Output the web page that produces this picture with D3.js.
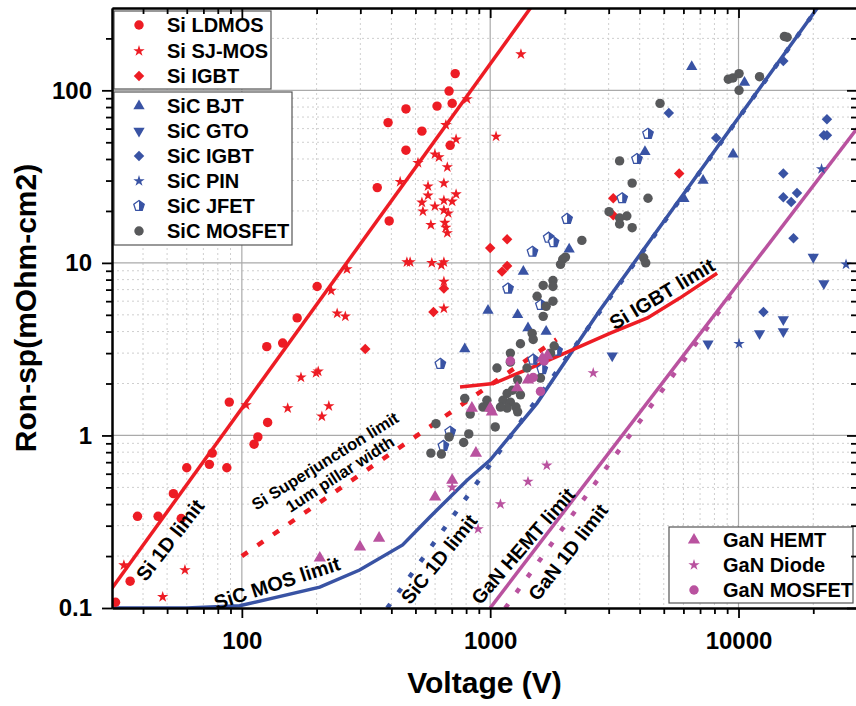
<!DOCTYPE html>
<html>
<head>
<meta charset="utf-8">
<script src="https://cdn.jsdelivr.net/npm/d3@7/dist/d3.min.js"></script>
<style>
  body { margin: 0; background: #fff; }
  svg { display: block; font-family: Arial, "Liberation Sans", sans-serif; }
</style>
</head>
<body>
<svg id="chart" width="856" height="706"></svg>
<script>
// [voltage (V), Ron-sp (mOhm-cm2)]
const siLdmos = [[31,0.108],[35.5,0.143],[38,0.34],[46,0.34],[53,0.46],[57,0.33],[60,0.65],[74,0.68],[76,0.79],[87,0.65],[89,1.56],[112,0.89],[116,0.98],[127,1.19],[126,3.27],[146,3.43],[167,4.8],[201,7.3],[351,27.3],[392,17.5],[388,65],[458,78],[531,58],[458,45],[611,81],[683,99],[703,84],[723,125],[690,48]];
const siSjMos = [[33.5,0.177],[48,0.116],[59,0.166],[104,1.5],[153,1.44],[173,2.17],[199,2.3],[203,2.35],[224,1.48],[210,1.29],[265,9.2],[229,6.9],[242,5.1],[261,4.9],[434,29.5],[512,38],[807,89],[1056,54],[663,63],[729,52],[599,42.6],[622,41],[672,35.9],[562,27.8],[651,29],[562,24.6],[729,25],[531,22.4],[599,21.3],[651,23],[703,22.7],[536,19.9],[651,20.2],[678,19.4],[577,16.6],[657,17.1],[663,16],[672,14.9],[462,10.1],[476,10.1],[582,10],[636,9.7],[651,10.1],[651,7.8],[651,5.45],[1330,162]];
const siIgbt = [[314,3.17],[591,5.2],[651,7.1],[1000,12.2],[1170,13.7],[1170,9.6],[1116,8.9],[5770,33],[3130,23.7],[3130,18.9]];
const sicBjt = [[6480,137],[10570,111],[4200,44],[9510,42.6],[7200,30],[6030,23.5],[2080,12],[1360,8.9],[980,5.3],[1290,5.0],[1420,4.2],[1680,4.0],[790,3.17]];
const sicGto = [[3100,2.9],[7540,3.4],[12150,3.9],[15150,4.7],[15150,4.0],[22060,7.6],[20000,10.8]];
const sicIgbt = [[5240,74],[8130,53],[15150,148],[22700,68],[22060,55],[22700,55],[15150,33],[15150,24],[16300,22.5],[17200,25.4],[16650,13.9],[12600,5.2]];
const sicPin = [[21600,35],[27100,9.8],[10050,3.4]];
const sicJfet = [[4320,56],[3900,40],[3400,23.7],[2040,18],[1720,14],[1800,13.2],[1480,11.6],[1180,7.1],[630,2.6],[1600,5.7],[690,1.05],[648,0.87],[1490,2.75],[1620,2.42],[1860,3.1]];
const sicMosfet = [[15300,205],[15700,203],[9100,116],[9500,118],[10050,125],[12150,120],[10050,100],[4830,84],[3320,39],[3730,29],[4320,23.7],[3010,19.8],[3320,18.2],[3550,18.7],[3320,16.8],[3730,16],[2340,13.5],[4150,10.7],[4230,10],[1960,10.5],[1920,9.8],[2010,10.8],[1790,7.9],[1790,7.3],[1635,7.4],[1545,6.4],[1790,6.0],[1680,5.6],[1635,4.9],[1476,3.9],[1324,3.4],[1490,3.6],[1206,3.0],[1750,3.0],[1810,3.3],[1206,2.66],[1065,2.46],[1407,2.46],[1594,2.15],[1290,2.1],[1170,1.75],[1230,1.83],[1324,1.72],[1126,1.6],[1206,1.56],[1270,1.46],[1290,1.37],[1170,1.44],[1100,1.46],[970,1.6],[980,1.46],[1048,1.12],[935,1.46],[831,1.33],[790,1.64],[605,1.17],[683,0.98],[820,1.02],[782,0.91],[577,0.79],[636,0.78]];
const ganHemt = [[206,0.195],[299,0.226],[357,0.254],[600,0.44],[703,0.55],[876,0.79],[844,1.44],[1000,1.44],[1016,1.37],[1284,1.89],[1420,2.1],[1620,2.8],[1700,2.9]];
const ganDiode = [[2600,2.3],[1690,0.67],[1420,0.54],[1100,0.40],[894,0.287],[703,0.5]];
const ganMosfet = [[1206,2.7],[1594,1.8],[1490,2.17],[1650,2.7]];

// limit curves
const siLimit = [[30,0.13],[1453,300]];
const siSjLimit = [[100,0.2],[1850,3.6]];
const sicMosLimit = [[30,0.1],[60,0.1],[98,0.103],[206,0.132],[298,0.166],[444,0.232],[572,0.337],[807,0.55],[1000,0.72],[1545,1.54],[2770,5.33],[20770,300]];
const sic1dLimit = [[385,0.1],[20800,300]];
const siIgbtLimit = [[756,1.91],[1030,2.0],[1420,2.42],[2000,3.0],[3030,3.9],[4300,4.8],[5800,6.25],[8200,8.7]];
const ganHemtLimit = [[1000,0.1],[30000,60]];
const gan1dLimit = [[1150,0.1],[10000,7.5]];

const xMajor = [100, 1000, 10000];
const xMinor = [40,50,60,70,80,90,200,300,400,500,600,700,800,900,2000,3000,4000,5000,6000,7000,8000,9000,20000];
const yMajor = [0.1, 1, 10, 100];
const yMinor = [0.2,0.3,0.4,0.5,0.6,0.7,0.8,0.9,2,3,4,5,6,7,8,9,20,30,40,50,60,70,80,90,200];

const RED = '#ed1c24', BLUE = '#3953a4', GRAY = '#58595b', MAG = '#b9529f';

const svg = d3.select('#chart');
const pLeft = 112, pRight = 857, pTop = 8, pBottom = 608;

const x = d3.scaleLog().domain([30, 30000]).range([pLeft, pRight]);
const y = d3.scaleLog().domain([0.1, 300]).range([pBottom, pTop]);

svg.append('clipPath').attr('id', 'plot')
    .append('rect').attr('x', pLeft).attr('y', pTop).attr('width', pRight - pLeft).attr('height', pBottom - pTop);

// grid
const grid = svg.append('g');
grid.selectAll('.gxm').data(xMinor).enter().append('line')
    .attr('x1', d => x(d)).attr('x2', d => x(d)).attr('y1', pTop).attr('y2', pBottom)
    .attr('stroke', '#cfcfcf').attr('stroke-dasharray', '2,3');
grid.selectAll('.gym').data(yMinor).enter().append('line')
    .attr('y1', d => y(d)).attr('y2', d => y(d)).attr('x1', pLeft).attr('x2', pRight)
    .attr('stroke', '#cfcfcf').attr('stroke-dasharray', '2,3');
grid.selectAll('.gx').data(xMajor).enter().append('line')
    .attr('x1', d => x(d)).attr('x2', d => x(d)).attr('y1', pTop).attr('y2', pBottom)
    .attr('stroke', '#aaa').attr('stroke-width', 1.2);
grid.selectAll('.gy').data(yMajor.slice(1)).enter().append('line')
    .attr('y1', d => y(d)).attr('y2', d => y(d)).attr('x1', pLeft).attr('x2', pRight)
    .attr('stroke', '#aaa').attr('stroke-width', 1.2);

// limit lines
const line = d3.line().x(d => x(d[0])).y(d => y(d[1]));
const lines = svg.append('g').attr('clip-path', 'url(#plot)').attr('fill', 'none');
const drawLine = (data, color, dash) => {
    lines.append('path').attr('d', line(data))
        .attr('stroke', color)
        .attr('stroke-width', dash ? 4.5 : 3.5)
        .attr('stroke-dasharray', dash);
};
drawLine(siLimit, RED, null);
drawLine(siSjLimit, RED, '7,12');
drawLine(sicMosLimit, BLUE, null);
drawLine(sic1dLimit, BLUE, '5,14');
drawLine(ganHemtLimit, MAG, null);
drawLine(gan1dLimit, MAG, '5,14');
drawLine(siIgbtLimit, RED, null);

// markers
const drawMarker = (g, shape, color, px, py) => {
    if (shape === 'jfet') {
        const r = 5.5;
        const corners = d3.range(5).map(i => {
            const a = -Math.PI / 2 + i * 2 * Math.PI / 5;
            return [r * Math.cos(a), r * Math.sin(a)];
        });
        const m = g.append('g').attr('transform', `translate(${px},${py})`);
        m.append('path').attr('d', 'M' + corners.join('L') + 'Z')
            .attr('fill', '#fff').attr('stroke', color).attr('stroke-width', 1.3);
        m.append('path').attr('d', `M0,${-r}L${corners[1]}L${corners[2]}L0,${corners[2][1]}Z`).attr('fill', color);
        return;
    }
    let sym, rot = 0;
    if (shape === 'circle') sym = d3.symbol(d3.symbolCircle, 70);
    if (shape === 'star') sym = d3.symbol(d3.symbolStar, 40);
    if (shape === 'diamond') { sym = d3.symbol(d3.symbolSquare, 55); rot = 45; }
    if (shape === 'triangle') sym = d3.symbol(d3.symbolTriangle, 55);
    if (shape === 'bigTriangle') sym = d3.symbol(d3.symbolTriangle, 65);
    if (shape === 'triangleDown') { sym = d3.symbol(d3.symbolTriangle, 55); rot = 180; }
    g.append('path').attr('d', sym())
        .attr('transform', `translate(${px},${py}) rotate(${rot})`)
        .attr('fill', color);
};

const series = [
    { name: 'Si LDMOS', data: siLdmos, color: RED, shape: 'circle' },
    { name: 'Si SJ-MOS', data: siSjMos, color: RED, shape: 'star' },
    { name: 'Si IGBT', data: siIgbt, color: RED, shape: 'diamond' },
    { name: 'SiC BJT', data: sicBjt, color: BLUE, shape: 'triangle' },
    { name: 'SiC GTO', data: sicGto, color: BLUE, shape: 'triangleDown' },
    { name: 'SiC IGBT', data: sicIgbt, color: BLUE, shape: 'diamond' },
    { name: 'SiC PIN', data: sicPin, color: BLUE, shape: 'star' },
    { name: 'SiC JFET', data: sicJfet, color: BLUE, shape: 'jfet' },
    { name: 'SiC MOSFET', data: sicMosfet, color: GRAY, shape: 'circle' },
    { name: 'GaN HEMT', data: ganHemt, color: MAG, shape: 'bigTriangle' },
    { name: 'GaN Diode', data: ganDiode, color: MAG, shape: 'star' },
    { name: 'GaN MOSFET', data: ganMosfet, color: MAG, shape: 'circle' }
];

const marks = svg.append('g').attr('clip-path', 'url(#plot)');
series.forEach(s => {
    s.data.forEach(d => drawMarker(marks, s.shape, s.color, x(d[0]), y(d[1])));
});

// annotations
const notes = [
    { text: 'Si 1D limit', x: 170, y: 540, a: -52, size: 20 },
    { text: 'SiC MOS limit', x: 277, y: 583, a: -18, size: 20 },
    { text: 'Si Superjunction limit', x: 325, y: 461, a: -32, size: 16.5 },
    { text: '1um pillar width', x: 340, y: 474, a: -33, size: 16.5 },
    { text: 'SiC 1D limit', x: 439, y: 559, a: -51, size: 19.5 },
    { text: 'GaN HEMT limit', x: 523, y: 546, a: -49, size: 19.5 },
    { text: 'GaN 1D limit', x: 568, y: 552, a: -52, size: 19.5 },
    { text: 'Si IGBT limit', x: 662, y: 294, a: -31, size: 20 }
];
svg.append('g').selectAll('text').data(notes).enter().append('text')
    .attr('transform', d => `translate(${d.x},${d.y}) rotate(${d.a})`)
    .attr('text-anchor', 'middle').attr('dy', '0.35em')
    .attr('font-size', d => d.size).attr('font-weight', 'bold')
    .text(d => d.text);

// legends
const drawLegend = (items, bx, by, bw, bh, sx, tx, rows) => {
    const g = svg.append('g');
    g.append('rect').attr('x', bx).attr('y', by).attr('width', bw).attr('height', bh)
        .attr('fill', '#fff').attr('stroke', '#555').attr('stroke-width', 1.2);
    items.forEach((s, i) => {
        drawMarker(g, s.shape, s.color, sx, rows[i]);
        g.append('text').attr('x', tx).attr('y', rows[i]).attr('dy', '0.36em')
            .attr('font-size', 20).attr('font-weight', 'bold').text(s.name);
    });
};
drawLegend(series.slice(0, 3), 114, 11, 157, 78, 139, 167, [25, 51, 76]);
drawLegend(series.slice(3, 9), 114, 92, 178, 153, 139, 167, [106, 131, 156, 181, 206, 231]);
drawLegend(series.slice(9), 669, 527, 184, 76, 694, 723, [540, 565, 590]);

// axes
const axes = svg.append('g');
const styleAxis = (g) => {
    g.selectAll('path').attr('stroke', '#000').attr('stroke-width', 2);
    g.selectAll('line').attr('stroke', '#000').attr('stroke-width', 1.8);
    g.selectAll('text').attr('font-size', 24).attr('font-weight', 'bold').attr('fill', '#000')
        .attr('font-family', 'Arial, "Liberation Sans", sans-serif');
};
const fmt = d => (d < 1 ? d3.format('.1f')(d) : d3.format('d')(d));

axes.append('g').attr('transform', `translate(0,${pBottom})`)
    .call(d3.axisBottom(x).tickValues(xMajor).tickFormat(fmt).tickSize(10).tickSizeOuter(0).tickPadding(14))
    .call(styleAxis);
axes.append('g').attr('transform', `translate(0,${pBottom})`)
    .call(d3.axisBottom(x).tickValues(xMinor).tickFormat('').tickSize(6).tickSizeOuter(0))
    .call(styleAxis);
axes.append('g').attr('transform', `translate(${pLeft},0)`)
    .call(d3.axisLeft(y).tickValues(yMajor).tickFormat(fmt).tickSize(10).tickSizeOuter(0).tickPadding(10))
    .call(styleAxis);
axes.append('g').attr('transform', `translate(${pLeft},0)`)
    .call(d3.axisLeft(y).tickValues(yMinor).tickFormat('').tickSize(6).tickSizeOuter(0))
    .call(styleAxis);
axes.append('g').attr('transform', `translate(0,${pTop})`)
    .call(d3.axisTop(x).tickValues(xMajor).tickFormat('').tickSize(-10).tickSizeOuter(0))
    .call(styleAxis);
axes.append('g').attr('transform', `translate(0,${pTop})`)
    .call(d3.axisTop(x).tickValues(xMinor).tickFormat('').tickSize(-6).tickSizeOuter(0))
    .call(styleAxis);
axes.append('g').attr('transform', `translate(${pRight},0)`)
    .call(d3.axisRight(y).tickValues(yMajor).tickFormat('').tickSize(-10).tickSizeOuter(0))
    .call(styleAxis);
axes.append('g').attr('transform', `translate(${pRight},0)`)
    .call(d3.axisRight(y).tickValues(yMinor).tickFormat('').tickSize(-6).tickSizeOuter(0))
    .call(styleAxis);

// axis titles
svg.append('text').attr('x', (pLeft + pRight) / 2).attr('y', 693)
    .attr('text-anchor', 'middle').attr('font-size', 30).attr('font-weight', 'bold')
    .text('Voltage (V)');
svg.append('text').attr('transform', 'translate(36,308) rotate(-90)')
    .attr('text-anchor', 'middle').attr('font-size', 30).attr('font-weight', 'bold')
    .text('Ron-sp(mOhm-cm2)');
</script>
</body>
</html>
